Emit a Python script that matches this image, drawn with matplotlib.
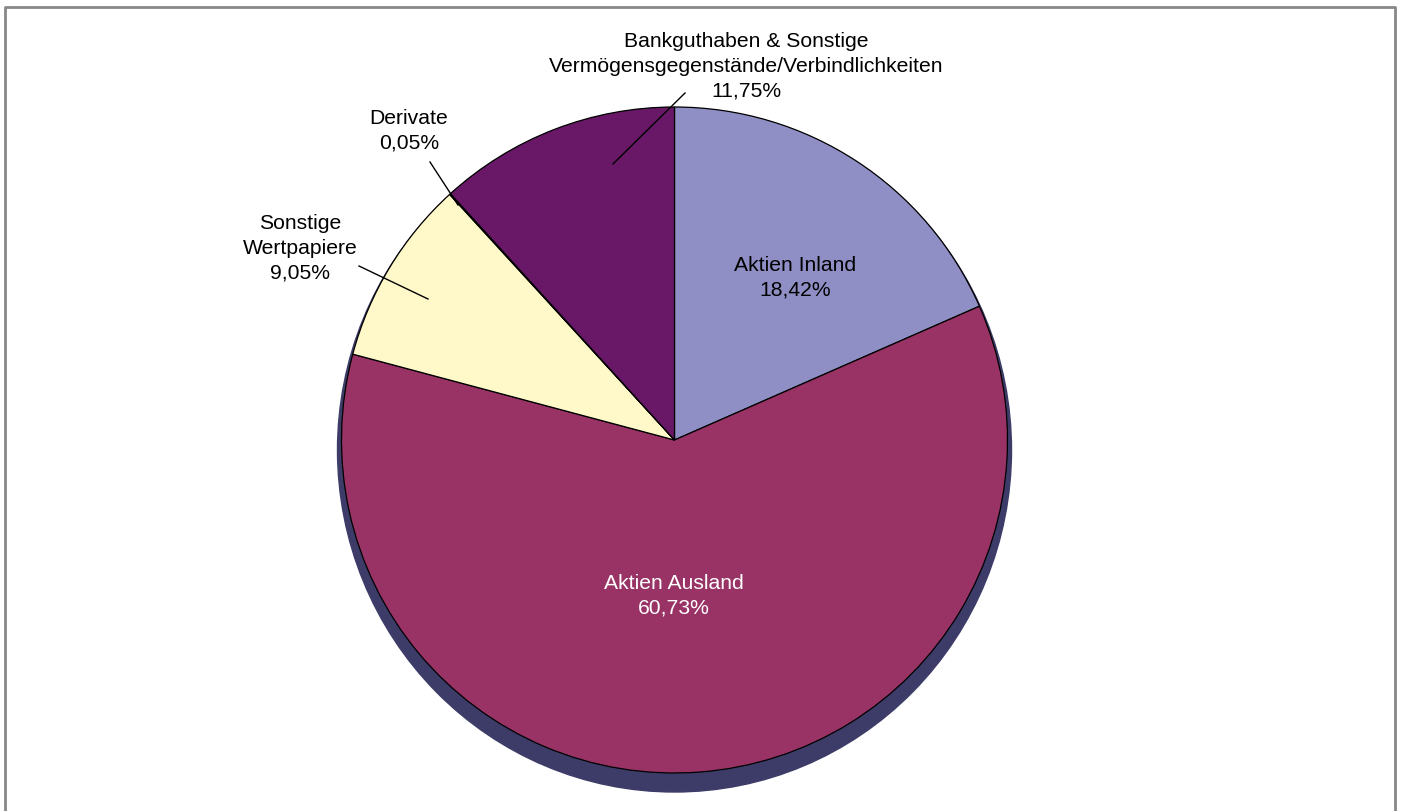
import matplotlib.pyplot as plt
from matplotlib.patches import Ellipse

plt.rcParams["font.family"] = ["Liberation Sans", "DejaVu Sans"]

# Anteile in Prozent, im Uhrzeigersinn ab 12 Uhr
labels = [
    "Aktien Inland",
    "Aktien Ausland",
    "Sonstige\nWertpapiere",
    "Derivate",
    "Bankguthaben & Sonstige\nVermögensgegenstände/Verbindlichkeiten",
]
values = [18.42, 60.73, 9.05, 0.05, 11.75]
colors = ["#8F8FC5", "#993366", "#FFF8C9", "#C8F5F5", "#681866"]

W, H = 1402, 811
fig = plt.figure(figsize=(W / 100, H / 100), dpi=100)
ax = fig.add_axes([0, 0, 1, 1])

cx, cy, r = 674.5, H - 440, 333

# Schatten unter dem Kreis
ax.add_patch(Ellipse((cx, cy - 10), 674, 684, color="#3D3C68", zorder=0))

ax.pie(
    values,
    colors=colors,
    startangle=90,
    counterclock=False,
    center=(cx, cy),
    radius=r,
    wedgeprops={"edgecolor": "black", "linewidth": 0.9},
    frame=True,
)
ax.set_xlim(0, W)
ax.set_ylim(0, H)
ax.axis("off")


def fmt(v):
    return f"{v:.2f}".replace(".", ",") + "%"


# Beschriftungen
txt = dict(ha="center", va="center", fontsize=15.2, linespacing=1.38)
ax.text(795, H - 278, f"{labels[0]}\n{fmt(values[0])}", color="black", **txt)
ax.text(674, H - 596, f"{labels[1]}\n{fmt(values[1])}", color="white", **txt)
ax.text(300, H - 248, f"{labels[2]}\n{fmt(values[2])}", color="black", **txt)
ax.text(409, H - 131, f"{labels[3]}\n{fmt(values[3])}", color="black", **txt)
ax.text(746, H - 66, f"{labels[4]}\n{fmt(values[4])}", color="black", **txt)

# Führungslinien
ax.plot([359, 428], [H - 266, H - 299], color="black", lw=1)
ax.plot([430, 458], [H - 162, H - 205], color="black", lw=1)
ax.plot([685, 613], [H - 93, H - 164], color="black", lw=1)

# Rahmen
ax.plot([4.5, 4.5, 1395, 1395], [-5, H - 6.5, H - 6.5, -5], color="#888888", lw=2,
        clip_on=False)

fig.savefig("out.png", dpi=100)
